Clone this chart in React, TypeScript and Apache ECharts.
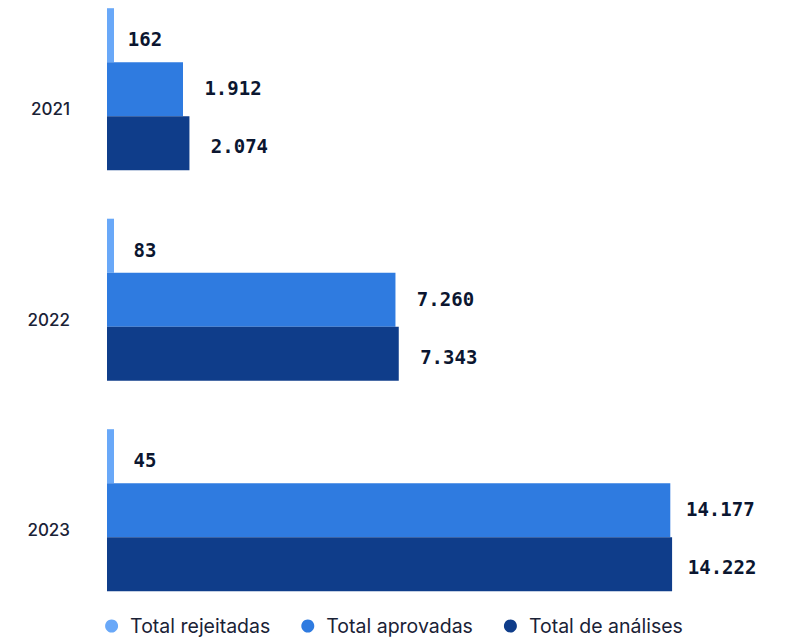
import React, { useEffect, useRef } from "react";
import * as echarts from "echarts";

const categories = ["2021", "2022", "2023"];
const rejeitadas = [162, 83, 45];
const aprovadas = [1912, 7260, 14177];
const analises = [2074, 7343, 14222];
const seriesNames = ["Total rejeitadas", "Total aprovadas", "Total de análises"];

const fmt = (v: number) => v.toLocaleString("de-DE");

export default function App() {
  const ref = useRef<HTMLDivElement>(null);
  useEffect(() => {
    document.body.style.margin = "0";
    if (!ref.current) return;
    const chart = echarts.init(ref.current, undefined, { renderer: "svg" });
    const labelBase = {
      show: true,
      position: "right" as const,
      fontFamily: "DejaVu Sans Mono",
      fontWeight: "bold" as const,
      fontSize: 19,
      color: "#0b1630",
      align: "center" as const,
      formatter: (p: any) => fmt(p.value),
    };
    chart.setOption({
      animation: false,
      grid: { left: 107, right: 85, top: 0, bottom: 23.5, containLabel: false },
      legend: {
        top: 627,
        left: "center",
        icon: "circle",
        itemWidth: 13,
        itemHeight: 13,
        itemGap: 31,
        textStyle: { fontFamily: "Inter", fontSize: 19.5, color: "#1a2236", padding: [0, 0, 0, 7] },
        data: seriesNames,
      },
      xAxis: {
        type: "value",
        min: 0,
        max: 15000,
        axisLabel: { show: false },
        splitLine: { show: false },
        axisLine: { show: false },
        axisTick: { show: false },
      },
      yAxis: {
        type: "category",
        inverse: true,
        data: categories,
        axisLine: { show: false },
        axisTick: { show: false },
        axisLabel: {
          margin: 37,
          fontFamily: "Inter",
          fontWeight: 500,
          fontSize: 17,
          color: "#1a2236",
          verticalAlign: "top",
          lineHeight: 40,
        },
      },
      series: [
        {
          name: seriesNames[0],
          type: "bar",
          data: rejeitadas,
          barGap: "0%",
          barCategoryGap: "23%",
          barMinHeight: 7,
          itemStyle: { color: "#69a8f8" },
          label: { ...labelBase, distance: 31, offset: [0, 4] },
        },
        {
          name: seriesNames[1],
          type: "bar",
          data: aprovadas,
          barGap: "0%",
          barCategoryGap: "23%",
          itemStyle: { color: "#2f7be0" },
          label: { ...labelBase, distance: 50, offset: [0, -1] },
        },
        {
          name: seriesNames[2],
          type: "bar",
          data: analises,
          barGap: "0%",
          barCategoryGap: "23%",
          itemStyle: { color: "#0f3d8a" },
          label: { ...labelBase, distance: 50, offset: [0, 3] },
        },
      ],
    });
    return () => chart.dispose();
  }, []);
  return <div ref={ref} style={{ width: 788, height: 655, marginTop: -16 }} />;
}
